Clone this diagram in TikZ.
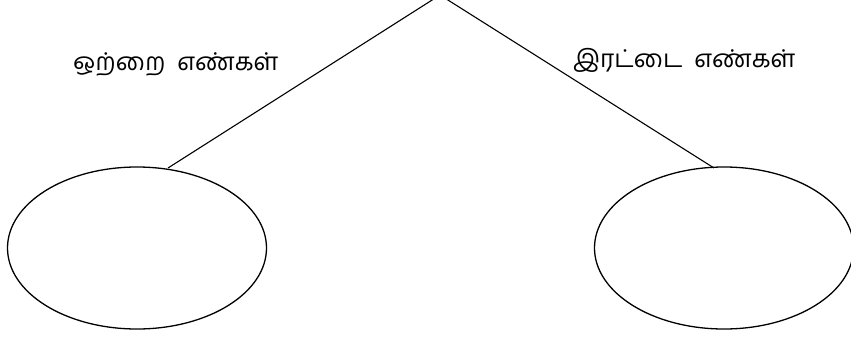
\documentclass[tikz,border=0pt]{standalone}
\usepackage{fontspec}
\usetikzlibrary{shapes.geometric}
\newfontfamily\tamilfont[Script=Tamil]{Hind Madurai}
\begin{document}
\begin{tikzpicture}[x=1pt,y=-1pt,
  set/.style={draw,ellipse,line width=1.3pt,minimum width=259pt,minimum height=162pt,inner sep=0pt},
  lbl/.style={font=\tamilfont\fontsize{24.5}{28}\selectfont,inner sep=0pt,anchor=west},
  conn/.style={line width=1.1pt}]
\useasboundingbox (0,0) rectangle (851,340);
\clip (0,0) rectangle (851,340);
\coordinate (apex) at (440,-5);
\node[set] (odd) at (137,248) {};
\node[set] (even) at (724,248) {};
\coordinate (oddtop) at (168,168);
\coordinate (eventop) at (714,168);
\draw[conn] (apex) -- (oddtop);
\draw[conn] (apex) -- (eventop);
\node[lbl] (oddlbl) at (73,64) {ஒற்றை\ \ எண்கள்};
\node[lbl] (evenlbl) at (573,60) {இரட்டை\ \ எண்கள்};
\end{tikzpicture}
\end{document}
